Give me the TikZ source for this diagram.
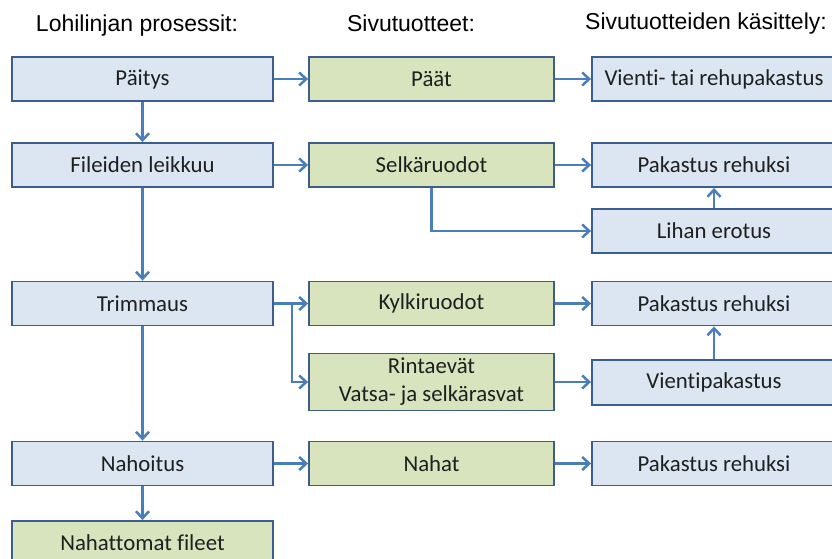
\documentclass[tikz,border=0pt]{standalone}
\usepackage{fontspec}
\setmainfont{Carlito}[Ligatures={NoCommon}]
\newfontfamily\hdrfont{Liberation Sans}
\usetikzlibrary{arrows.meta,calc}
\definecolor{procfill}{HTML}{DCE6F2}
\definecolor{sidefill}{HTML}{D7E4BD}
\definecolor{boxline}{HTML}{3B5E8C}
\definecolor{flow}{HTML}{4A7EBB}
\begin{document}
\begin{tikzpicture}[x=1pt,y=-1pt,
  basebox/.style={draw=boxline,line width=1.9pt,rectangle,inner sep=0pt,
    font=\fontsize{22.8}{28}\selectfont,align=center,text=black!88},
  procbox/.style={basebox,fill=procfill,minimum width=261pt,minimum height=44pt},
  sidebox/.style={basebox,fill=sidefill,minimum width=245pt,minimum height=44pt},
  usebox/.style={basebox,fill=procfill,minimum width=244pt,minimum height=44pt},
  heading/.style={font=\hdrfont\fontsize{23}{27}\selectfont,text=black},
  flowline/.style={draw=flow,line width=2.8pt,-{Straight Barb[length=7pt,width=13pt,line width=2.5pt]}}]
\useasboundingbox (0,0) rectangle (832,558);
\begin{scope}
\clip (0,0) rectangle (832,558);

% column headings
\node[heading] (h1) at (137,26) {Lohilinjan prosessit:};
\node[heading] (h2) at (411,23) {Sivutuotteet:};
\node[heading] (h3) at (706,24) {Sivutuotteiden käsittely:};

% main line processes
\node[procbox] (paitys) at (142.5,79) {Päitys};
\node[procbox] (filee) at (142.5,165) {Fileiden leikkuu};
\node[procbox] (trim) at (142.5,303.5) {Trimmaus};
\node[procbox] (nahoi) at (142.5,463.5) {Nahoitus};
\node[sidebox,minimum width=261pt] (fileet) at (142.5,543) {Nahattomat fileet};

% by-products
\node[sidebox] (paat) at (431.5,79) {Päät};
\node[sidebox] (selka) at (431.5,165) {Selkäruodot};
\node[sidebox] (kylki) at (431.5,303.5) {Kylkiruodot};
\node[sidebox,minimum height=57pt] (rinta) at (431.5,382) {Rintaevät\\Vatsa- ja selkärasvat};
\node[sidebox] (nahat) at (431.5,463.5) {Nahat};

% handling of by-products
\node[usebox] (vienti) at (714,79) {Vienti- tai rehupakastus};
\node[usebox] (pak1) at (714,165) {Pakastus rehuksi};
\node[usebox] (lihan) at (714,231) {Lihan erotus};
\node[usebox] (pak2) at (714,303.5) {Pakastus rehuksi};
\node[usebox,minimum height=45pt] (vpak) at (714,382.5) {Vientipakastus};
\node[usebox] (pak3) at (714,463.5) {Pakastus rehuksi};
\end{scope}

% flow down the main line
\draw[flowline] (paitys) -- (filee);
\draw[flowline] (filee) -- (trim);
\draw[flowline] (trim) -- (nahoi);
\draw[flowline] (nahoi) -- (fileet);

% processes to by-products
\draw[flowline] (paitys) -- (paat);
\draw[flowline] (filee) -- (selka);
\draw[flowline] (trim) -- (kylki);
\coordinate (split) at ($(trim.east)+(18,0)$);
\draw[flowline] (split) |- (rinta.west);
\draw[flowline] (nahoi) -- (nahat);

% by-products to handling
\draw[flowline] (paat) -- (vienti.west);
\draw[flowline] (selka) -- (pak1.west);
\draw[flowline] (selka.south) |- (lihan.west);
\draw[flowline] (lihan.north) -- (pak1.south);
\draw[flowline] (kylki) -- (pak2.west);
\draw[flowline] (rinta.east) -- (rinta.east -| vpak.west);
\draw[flowline] (vpak.north) -- (pak2.south);
\draw[flowline] (nahat) -- (pak3.west);
\end{tikzpicture}
\end{document}
